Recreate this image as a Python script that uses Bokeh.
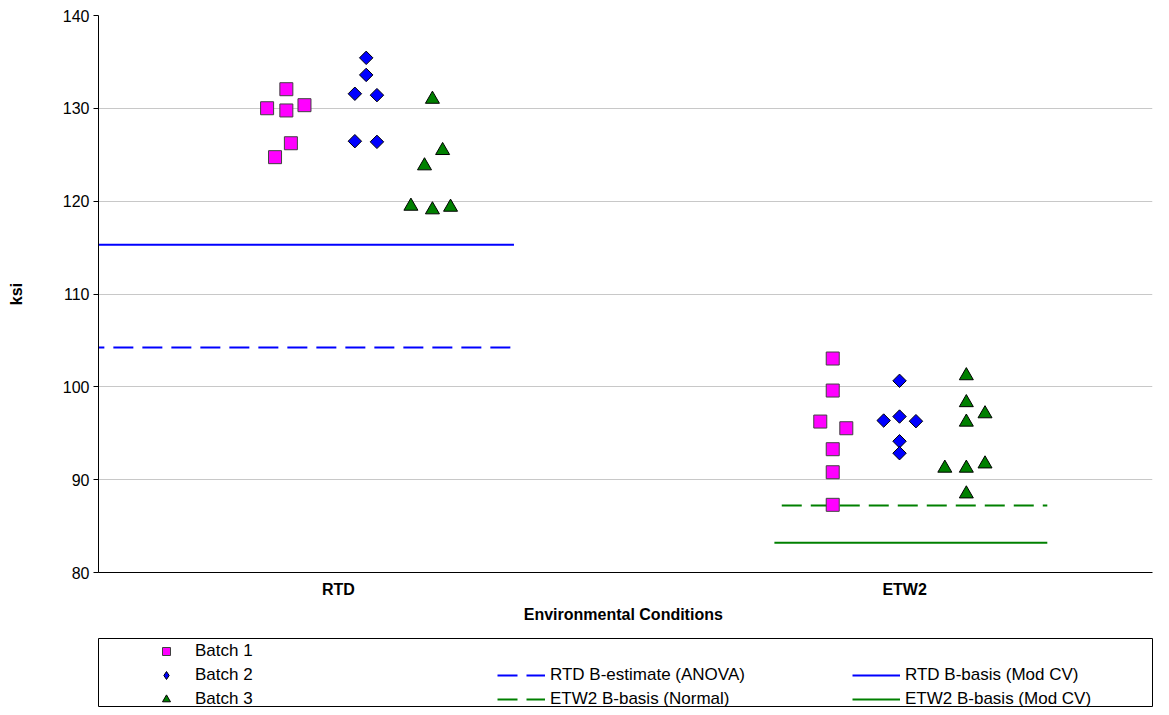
import math
from bokeh.plotting import figure
from bokeh.models import Range1d, Legend, LegendItem
from bokeh.layouts import column
from bokeh.embed import file_html
from bokeh.resources import INLINE

# ---------------- data ----------------
conditions = ["RTD", "ETW2"]
condition_pos = [1, 2]
y_ticks = [80, 90, 100, 110, 120, 130, 140]

# Batch 1 (x = condition position incl. visual jitter, y = ksi)
b1_x = [0.874, 0.908, 0.908, 0.940, 0.916, 0.888,
        1.873, 1.873, 1.851, 1.897, 1.873, 1.873, 1.873]
b1_y = [130.01, 132.06, 129.77, 130.34, 126.24, 124.74,
        103.05, 99.60, 96.26, 95.54, 93.28, 90.80, 87.29]

# Batch 2
b2_x = [1.049, 1.049, 1.029, 1.068, 1.029, 1.068,
        1.991, 1.963, 1.991, 2.020, 1.991, 1.991]
b2_y = [135.44, 133.60, 131.57, 131.42, 126.46, 126.39,
        100.65, 96.37, 96.80, 96.30, 94.14, 92.85]

# Batch 3
b3_x = [1.166, 1.184, 1.152, 1.128, 1.166, 1.198,
        2.109, 2.109, 2.142, 2.109, 2.071, 2.109, 2.142, 2.109]
b3_y = [130.98, 125.46, 123.81, 119.46, 119.07, 119.35,
        101.20, 98.30, 97.10, 96.20, 91.24, 91.24, 91.70, 88.47]

# Basis values (horizontal lines) and their x extents
rtd_bbasis_modcv = 115.3
rtd_bestimate_anova = 104.24
rtd_line_x = [0.50, 1.31]
etw2_bbasis_normal = 87.22
etw2_bbasis_modcv = 83.2
etw2_normal_x = [1.783, 2.252]
etw2_modcv_x = [1.770, 2.252]

FONT = "Liberation Sans"
MAGENTA = "#FF00FF"
BLUE = "#0000FF"
GREEN = "#008000"

# ---------------- main plot ----------------
p = figure(width=1153, height=638,
           x_range=Range1d(0.5762, 2.4378), y_range=Range1d(80, 140),
           output_backend="svg", toolbar_location=None,
           min_border_left=90, min_border_right=0,
           min_border_top=15, min_border_bottom=66)
p.outline_line_color = None
p.background_fill_color = "white"
p.border_fill_color = "white"

p.xgrid.visible = False
p.ygrid.grid_line_color = "#c8c8c8"
p.ygrid.grid_line_width = 1

p.yaxis.ticker = y_ticks
p.yaxis.minor_tick_line_color = None
p.yaxis.major_tick_in = 0
p.yaxis.major_tick_out = 5
p.yaxis.major_tick_line_color = "black"
p.yaxis.axis_line_color = "black"
p.yaxis.major_label_standoff = 4
p.yaxis.major_label_text_font = FONT
p.yaxis.major_label_text_font_size = "16px"
p.yaxis.major_label_text_color = "black"
p.yaxis.axis_label = "ksi"
p.yaxis.axis_label_text_font = FONT
p.yaxis.axis_label_text_font_style = "bold"
p.yaxis.axis_label_text_font_size = "16px"
p.yaxis.axis_label_text_color = "black"
p.yaxis.axis_label_standoff = 35

p.xaxis.ticker = condition_pos
p.xaxis.major_label_overrides = {pos: name for pos, name in zip(condition_pos, conditions)}
p.xaxis.minor_tick_line_color = None
p.xaxis.major_tick_line_color = None
p.xaxis.major_tick_in = 0
p.xaxis.major_tick_out = 0
p.xaxis.axis_line_color = "black"
p.xaxis.major_label_standoff = 8
p.xaxis.major_label_text_font = FONT
p.xaxis.major_label_text_font_style = "bold"
p.xaxis.major_label_text_font_size = "16px"
p.xaxis.major_label_text_color = "black"
p.xaxis.axis_label = "Environmental  Conditions"
p.xaxis.axis_label_text_font = FONT
p.xaxis.axis_label_text_font_style = "bold"
p.xaxis.axis_label_text_font_size = "16px"
p.xaxis.axis_label_text_color = "black"
p.xaxis.axis_label_standoff = 5

# basis lines
p.line(rtd_line_x, [rtd_bbasis_modcv] * 2, line_color=BLUE, line_width=2)
p.line(rtd_line_x, [rtd_bestimate_anova] * 2, line_color=BLUE, line_width=2,
       line_dash="20 9")
p.line(etw2_normal_x, [etw2_bbasis_normal] * 2, line_color=GREEN, line_width=2,
       line_dash="20 9")
p.line(etw2_modcv_x, [etw2_bbasis_modcv] * 2, line_color=GREEN, line_width=2)

# points
p.scatter(b1_x, b1_y, marker="square", size=13, fill_color=MAGENTA,
          line_color="#404040", line_width=1)
p.scatter(b2_x, b2_y, marker="square", size=9.5, angle=math.pi / 4,
          fill_color=BLUE, line_color="black", line_width=1)
p.scatter(b3_x, b3_y, marker="triangle", size=14, fill_color=GREEN,
          line_color="black", line_width=1)

# ---------------- legend panel ----------------
p2 = figure(width=1153, height=69, x_range=Range1d(0, 1), y_range=Range1d(0, 1),
            output_backend="svg", toolbar_location=None,
            x_axis_type=None, y_axis_type=None,
            min_border_left=98, min_border_right=1,
            min_border_top=0, min_border_bottom=0)
p2.outline_line_color = "black"
p2.outline_line_width = 1
p2.background_fill_color = "white"
p2.border_fill_color = "white"

# legend-only renderers: a single point placed outside the visible range
off_x = [-5.0]
off_y = [-5.0]
off_lx = [-6.0, -5.0]
off_ly = [-5.0, -5.0]
lg_b1 = p2.scatter(off_x, off_y, marker="square", fill_color=MAGENTA,
                   line_color="#404040", line_width=1)
lg_b2 = p2.scatter(off_x, off_y, marker="diamond",
                   fill_color=BLUE, line_color="black", line_width=1)
lg_b3 = p2.scatter(off_x, off_y, marker="triangle", fill_color=GREEN,
                   line_color="black", line_width=1)
lg_blank1 = p2.scatter(off_x, off_y, fill_alpha=0, line_alpha=0)
lg_blank2 = p2.scatter(off_x, off_y, fill_alpha=0, line_alpha=0)
lg_rtd_est = p2.line(off_lx, off_ly, line_color=BLUE, line_width=2, line_dash="20 9")
lg_etw_norm = p2.line(off_lx, off_ly, line_color=GREEN, line_width=2, line_dash="20 9")
lg_rtd_mod = p2.line(off_lx, off_ly, line_color=BLUE, line_width=2)
lg_etw_mod = p2.line(off_lx, off_ly, line_color=GREEN, line_width=2)

items = [
    LegendItem(label="Batch 1", renderers=[lg_b1]),
    LegendItem(label="Batch 2", renderers=[lg_b2]),
    LegendItem(label="Batch 3", renderers=[lg_b3]),
    LegendItem(label=" ", renderers=[lg_blank1]),
    LegendItem(label="RTD B-estimate (ANOVA)", renderers=[lg_rtd_est]),
    LegendItem(label="ETW2 B-basis (Normal)", renderers=[lg_etw_norm]),
    LegendItem(label=" ", renderers=[lg_blank2]),
    LegendItem(label="RTD B-basis (Mod CV)", renderers=[lg_rtd_mod]),
    LegendItem(label="ETW2 B-basis (Mod CV)", renderers=[lg_etw_mod]),
]
legend = Legend(items=items, location=(44, -2), orientation="vertical", nrows=3,
                padding=0, spacing=4, margin=0,
                glyph_width=48, glyph_height=20, label_height=20,
                label_width=298, label_standoff=5,
                label_text_font=FONT, label_text_font_size="17px",
                label_text_color="black",
                border_line_color=None, background_fill_alpha=0)
p2.add_layout(legend, "center")

layout = column(p, p2, spacing=0)

open("out.html", "w").write(file_html(layout, INLINE))
